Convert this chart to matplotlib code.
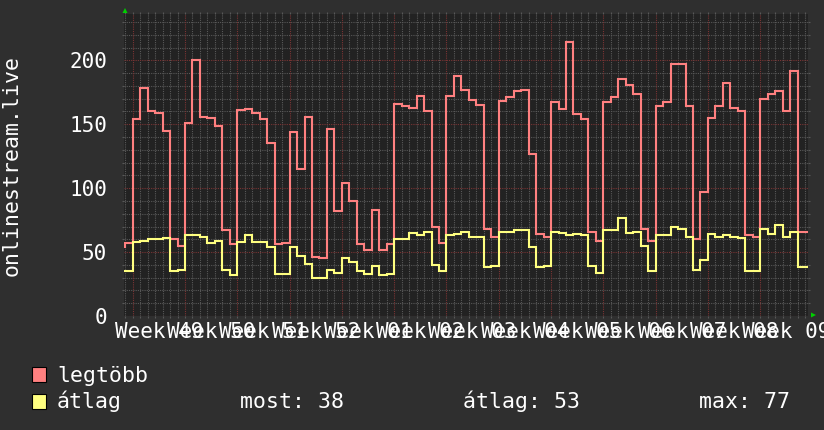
import numpy as np
import matplotlib
matplotlib.use("Agg")
import matplotlib.pyplot as plt
from matplotlib.patches import Rectangle, Polygon

# ---------------- data (daily values, day 0 = Monday of week 49) ----------------
days = list(range(-2, 91))
legtobb = [54, 57,
           154, 178, 160, 159, 145, 60, 55,
           151, 200, 156, 155, 149, 67, 56,
           161, 162, 159, 154, 135, 56, 57,
           144, 115, 156, 46, 45, 146, 82,
           104, 90, 56, 52, 83, 52, 56,
           166, 164, 163, 172, 160, 70, 57,
           172, 188, 177, 169, 165, 68, 62,
           168, 171, 176, 177, 127, 64, 62,
           167, 162, 214, 158, 154, 66, 59,
           167, 171, 185, 181, 174, 68, 59,
           164, 167, 197, 197, 164, 60, 97,
           155, 164, 182, 163, 160, 63, 62,
           170, 174, 176, 160, 192, 66, 66]
atlag = [35, 35,
         58, 59, 60, 60, 61, 35, 36,
         63, 63, 62, 57, 59, 36, 32,
         58, 63, 58, 58, 54, 33, 33,
         54, 47, 41, 30, 30, 36, 34,
         45, 42, 35, 33, 39, 32, 33,
         60, 60, 65, 63, 66, 40, 35,
         63, 64, 66, 62, 62, 38, 39,
         66, 66, 67, 67, 54, 38, 39,
         66, 65, 63, 64, 63, 39, 34,
         67, 67, 77, 65, 66, 55, 35,
         63, 63, 70, 68, 62, 36, 44,
         64, 62, 63, 62, 61, 35, 35,
         68, 64, 71, 62, 66, 38, 38]
week_lines = list(range(0, 85, 7))
week_labels = ["Week 49", "Week 50", "Week 51", "Week 52", "Week 01", "Week 02",
               "Week 03", "Week 04", "Week 05", "Week 06", "Week 07", "Week 08",
               "Week 09"]
label_pos = [3.5 + 7 * i for i in range(len(week_labels))]
y_major = [0, 50, 100, 150, 200]
y_minor = list(range(0, 240, 10))
series_names = ["legtöbb", "átlag"]
series_colors = ["#ff8080", "#ffff80"]
stat_names = ["most", "átlag", "max"]
stat_values = [38, 53, 77]
y_title = "onlinestream.live"

# ---------------- style ----------------
FONT = "DejaVu Sans Mono"
plt.rcParams["font.family"] = [FONT]
BG = "#2f2f2f"
CANVAS = "#222222"
MINOR = "#585858"
MAJOR = "#7a3434"
TXT = "#ffffff"

W, H = 824, 430
fig = plt.figure(figsize=(W / 100, H / 100), dpi=100, facecolor=BG)


def fx(px):
    return px / W


def fy(py):
    return 1 - py / H


L, R, T, B = 124, 808, 14, 316
ax = fig.add_axes([fx(L), fy(B), (R - L) / W, (B - T) / H])
ax.set_facecolor(CANVAS)
x0 = (L - 132.7) / 7.471
x1 = (R - 132.7) / 7.471
ax.set_xlim(x0, x1)
ax.set_ylim(0, (B - T) / 1.2785)
for s in ax.spines.values():
    s.set_visible(False)

dots = (0, (1, 1))
for d in range(int(np.ceil(x0)), int(np.floor(x1)) + 1):
    if d % 7 != 0:
        ax.axvline(d, color=MINOR, lw=0.8, ls=dots, zorder=1)
for v in y_minor:
    if v % 50 != 0:
        ax.axhline(v, color=MINOR, lw=0.8, ls=dots, zorder=1)
for d in week_lines:
    ax.axvline(d, color=MAJOR, lw=0.8, ls=dots, zorder=1.5)
for v in y_major:
    ax.axhline(v, color=MAJOR, lw=0.8, ls=dots, zorder=1.5)

# series (step lines)
xs = np.append(np.array(days, dtype=float), days[-1] + 1)
for vals, col in zip([legtobb, atlag], series_colors):
    ys = np.append(np.array(vals, dtype=float), vals[-1])
    ax.plot(xs, ys, drawstyle="steps-post", color=col, lw=1.5, zorder=3,
            solid_joinstyle="miter")

# ticks and labels
ax.set_xticks(label_pos)
ax.set_xticklabels(week_labels)
ax.set_yticks(y_major)
ax.set_yticklabels([str(v) for v in y_major])
ax.tick_params(axis="x", which="major", length=0, pad=4.0, labelsize=15, labelcolor=TXT)
ax.tick_params(axis="y", which="major", length=0, pad=12.2, labelsize=15, labelcolor=TXT)
ax.set_xticks(list(range(int(np.ceil(x0)), int(np.floor(x1)) + 1)), minor=True)
ax.set_yticks(y_minor, minor=True)
ax.tick_params(which="minor", direction="out", length=1.6, width=0.8, color=MINOR,
               top=True, bottom=True, left=True, right=True)

# arrows
fig.patches.append(Polygon([[fx(122.5), fy(13)], [fx(127.5), fy(13)], [fx(125), fy(8)]],
                           closed=True, transform=fig.transFigure, facecolor="#00d000",
                           edgecolor="none"))
fig.patches.append(Polygon([[fx(811), fy(312.5)], [fx(811), fy(317.5)], [fx(816), fy(315)]],
                           closed=True, transform=fig.transFigure, facecolor="#00d000",
                           edgecolor="none"))

# y title
fig.text(fx(12), fy(165), y_title, rotation=90, ha="center", va="center",
         color=TXT, fontsize=15.5)

# legend
leg_rows = [381.5, 408.5]
for name, col, base in zip(series_names, series_colors, leg_rows):
    fig.patches.append(Rectangle((fx(32), fy(base)), 14 / W, 15 / H,
                                 transform=fig.transFigure, facecolor=col,
                                 edgecolor="black", lw=0.8))
    fig.text(fx(57), fy(base), name, ha="left", va="baseline", color=TXT, fontsize=15.5)

stat_x = [240, 463, 699]
for nm, val, sx in zip(stat_names, stat_values, stat_x):
    fig.text(fx(sx), fy(leg_rows[1]), f"{nm}: {val}", ha="left", va="baseline",
             color=TXT, fontsize=15.5)

fig.savefig("out.png", dpi=100, facecolor=BG)
